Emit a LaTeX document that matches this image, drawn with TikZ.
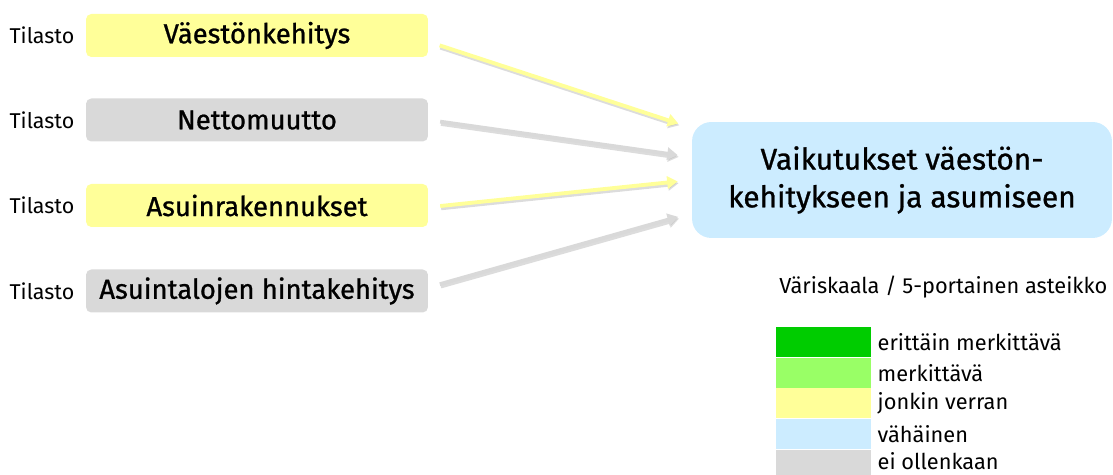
\documentclass[tikz,border=0pt]{standalone}
\usepackage{fontspec}
\setmainfont{Fira Sans}
\newfontfamily\medfont{Fira Sans}[FakeBold=0.9]
\usetikzlibrary{positioning, arrows.meta}

\definecolor{tasoyellow}{HTML}{FFFF99}
\definecolor{tasogray}{HTML}{D9D9D9}
\definecolor{tasoblue}{HTML}{CCECFF}
\definecolor{tasogreen}{HTML}{99FF66}
\definecolor{tasodark}{HTML}{00CC00}

\begin{document}
\begin{tikzpicture}[
        x=0.02cm, y=-0.02cm,
        node distance=0.22cm and 0.22cm,
        source/.style={rectangle, rounded corners=3pt, minimum width=6.84cm, minimum height=0.86cm, inner sep=0pt, font=\medfont\fontsize{15.6}{19}\selectfont},
        tag/.style={inner sep=0pt, font=\fontsize{12.2}{14}\selectfont},
        target/.style={rectangle, rounded corners=11pt, fill=tasoblue, minimum width=8.4cm, minimum height=2.32cm, align=center, font=\medfont\fontsize{17}{21.5}\selectfont},
        link/.style={line width=2.2pt, -{Triangle[length=6pt, width=7pt]}, shorten <=6.8pt, shorten >=8pt,
            preaction={draw=black!30, opacity=.45, line width=2.8pt, transform canvas={xshift=.5pt, yshift=-1pt}}},
        swatch/.style={rectangle, minimum width=1.9cm, minimum height=0.6cm, inner sep=0pt},
        key/.style={inner sep=0pt, anchor=west, font=\fontsize{12.4}{14}\selectfont}
    ]
        \useasboundingbox (0,0) rectangle (1113,475);

        % Sources
        \node [source, fill=tasoyellow] (vk) at (257,35.5) {Väestönkehitys};
        \node [source, fill=tasogray] (nm) at (257,120) {Nettomuutto};
        \node [source, fill=tasoyellow] (ar) at (257,205.5) {Asuinrakennukset};
        \node [source, fill=tasogray] (hk) at (257,291) {Asuintalojen hintakehitys};

        \node [tag, left=of vk] (t1) {Tilasto};
        \node [tag, left=of nm] (t2) {Tilasto};
        \node [tag, left=of ar] (t3) {Tilasto};
        \node [tag, left=of hk] (t4) {Tilasto};

        % Result
        \node [target] (res) at (902,180) {Vaikutukset väestön-\\kehitykseen ja asumiseen};

        % Edges
        \draw [link, tasoyellow] ([yshift=-3.5pt]vk.east) -- ([yshift=29.6pt]res.west);
        \draw [link, tasogray] (nm.east) -- ([yshift=13pt]res.west);
        \draw [link, tasoyellow] ([yshift=-1pt]ar.east) -- (res.west);
        \draw [link, tasogray] ([yshift=2pt]hk.east) -- ([yshift=-18.8pt]res.west);

        % Legend
        \node [key] (title) at (779,287) {Väriskaala / 5-portainen asteikko};
        \node [swatch, fill=tasodark] (sw1) at (823.5,342) {};
        \node [swatch, fill=tasogreen, below=0cm of sw1] (sw2) {};
        \node [swatch, fill=tasoyellow, below=0cm of sw2] (sw3) {};
        \node [swatch, fill=tasoblue, below=0cm of sw3] (sw4) {};
        \node [swatch, fill=tasogray, below=0cm of sw4] (sw5) {};

        \node [key, right=0.12cm of sw1] {erittäin merkittävä};
        \node [key, right=0.12cm of sw2] {merkittävä};
        \node [key, right=0.12cm of sw3] {jonkin verran};
        \node [key, right=0.12cm of sw4] {vähäinen};
        \node [key, right=0.12cm of sw5, yshift=2pt] {ei ollenkaan};
    \end{tikzpicture}
\end{document}
